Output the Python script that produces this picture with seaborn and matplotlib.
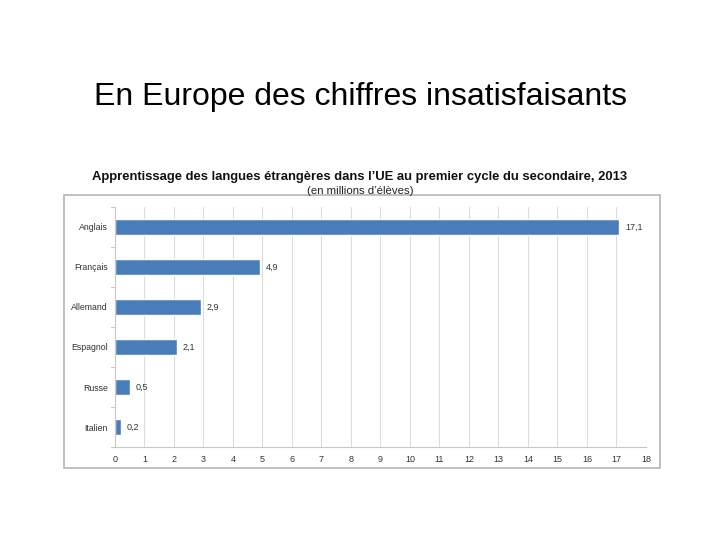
import matplotlib
matplotlib.use("Agg")
import matplotlib.pyplot as plt
import seaborn as sns
import pandas as pd
from matplotlib.patches import Rectangle

sns.set_style("white")
plt.rcParams['font.family'] = ['Liberation Sans', 'DejaVu Sans']

langues = ["Anglais", "Français", "Allemand", "Espagnol", "Russe", "Italien"]
eleves = [17.1, 4.9, 2.9, 2.1, 0.5, 0.2]
xticks = list(range(0, 19))

df = pd.DataFrame({"langue": langues, "eleves": eleves})

fig = plt.figure(figsize=(7.2, 5.4), dpi=100)
fig.patch.set_facecolor("white")

# slide title
fig.text(0.5, 0.82, "En Europe des chiffres insatisfaisants", ha="center", va="center",
         fontsize=23, color="black")

# frame of the embedded chart
fig.patches.append(Rectangle((0.089, 0.133), 0.828, 0.506, transform=fig.transFigure,
                             fill=False, edgecolor="#b5b5b5", linewidth=1.2))

fig.text(0.5, 0.673, "Apprentissage des langues étrangères dans l\u2019UE au premier cycle du secondaire, 2013",
         ha="center", va="center", fontsize=9.4, fontweight="bold", color="#111111")
fig.text(0.5, 0.647, "(en millions d\u2019élèves)", ha="center", va="center", fontsize=8.2, color="#222222")

ax = fig.add_axes([0.1597, 0.172, 0.7375, 0.445])
sns.barplot(data=df, x="eleves", y="langue", color="#4a7ebb", saturation=1, width=0.4, ax=ax)

ax.set_xlim(0, 18)
ax.set_ylim(5.5, -0.5)
ax.set_xticks(xticks)
ax.set_xticklabels([str(t) for t in xticks], fontsize=6.5, color="#333333")
ax.set_xlabel("")
ax.set_ylabel("")
ax.tick_params(axis="y", length=0, labelsize=6.3, colors="#333333", pad=5)
ax.tick_params(axis="x", length=0, pad=6)
ax.grid(axis="x", color="#dcdcdc", linewidth=0.8)
ax.set_axisbelow(True)
for s in ["top", "right"]:
    ax.spines[s].set_visible(False)
for s in ["left", "bottom"]:
    ax.spines[s].set_color("#c8c8c8")
    ax.spines[s].set_linewidth(0.8)

# category separator ticks on y axis
for b in [i - 0.5 for i in range(len(langues) + 1)]:
    ax.plot([-0.12, 0], [b, b], color="#c8c8c8", linewidth=0.8, clip_on=False)

for i, v in enumerate(eleves):
    ax.text(v + 0.2, i, f"{v:.1f}".replace(".", ","), va="center", ha="left", fontsize=6.5, color="#333333")

fig.savefig("out.png", dpi=100)
